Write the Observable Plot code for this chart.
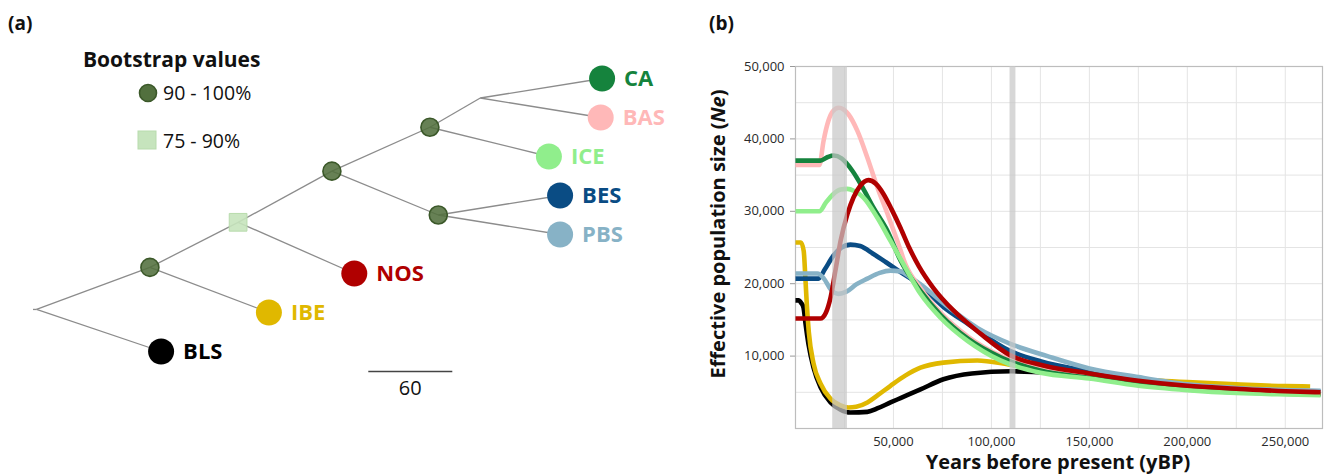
<!DOCTYPE html>
<html><head><meta charset="utf-8">
<script src="https://cdn.jsdelivr.net/npm/d3@7"></script>
<script src="https://cdn.jsdelivr.net/npm/@observablehq/plot@0.6"></script>
<style>
body{margin:0;background:#fff;font-family:"Open Sans",Lato,sans-serif;color:#111;}
#wrap{position:relative;width:1327px;height:475px;overflow:hidden;}
.abs{position:absolute;line-height:1;white-space:nowrap;}
.abs svg{display:block;}
#pa{position:absolute;left:0;top:0;}
#pb{position:absolute;left:690px;top:0;}
</style></head><body><div id="wrap"><div id="pa"></div><div id="pb"></div></div>
<script>
// ---------- Panel (a): tree ----------
const taxa = ["CA","BAS","ICE","BES","PBS","NOS","IBE","BLS"];
const taxonColors = ["#15833d","#ffb8b8","#90ee8c","#0a4c84","#87b2c6","#b00000","#e0b800","#000000"];
const taxonDepth = [404,403,366,374,374,227,166,89];
const innerNodes = ["root","A","B","C","D","E","F"];
const innerDepth = [0,81,144,211,281,287,317];
const innerSupport = [null,"90-100","75-90","90-100","90-100","90-100",null];
const edgeParent = ["root","root","A","A","B","B","C","C","D","D","F","F","E","E"];
const edgeChild  = ["A","BLS","B","IBE","C","NOS","D","E","F","ICE","CA","BAS","BES","PBS"];
const scaleBarLength = 60;
const scaleBarStart = 237;

// ---------- Panel (b): Ne through time ----------
const seriesNames = ["BLS","IBE","BES","PBS","BAS","CA","ICE","NOS"];
const seriesColors = ["#000000","#e0b800","#0a4c84","#87b2c6","#ffb8b8","#15833d","#90ee8c","#b00000"];
const BLS = [[0,17700],[1500,17700],[3000,17300],[4100,16700],[5100,14500],[6600,11700],[9200,8400],[12800,5700],[17900,3600],[23000,2600],[28000,2200],[36700,2300],[42000,2800],[48500,3600],[53600,4200],[63800,5400],[75500,6800],[90000,7600],[110000,7900],[130000,7700],[150000,7000],[175000,6200],[200000,5500],[225000,5100],[250000,4900],[268000,4800]];
const IBE = [[0,25700],[2800,25700],[4200,24500],[5000,21000],[5800,17000],[6800,13300],[9200,9000],[12800,6200],[17900,4100],[23000,3200],[27000,2900],[31000,3000],[36700,3600],[42000,4600],[48500,5900],[56000,7300],[63800,8400],[75500,9100],[92800,9400],[109700,8800],[125000,8200],[150000,7400],[175000,6800],[200000,6400],[225000,6100],[250000,5850],[262700,5800]];
const BES = [[0,20700],[11700,20700],[15000,22000],[19400,23900],[23500,25000],[28000,25400],[33000,25200],[39800,24100],[46000,23000],[53600,21600],[63800,19800],[75500,16800],[87800,14500],[109700,10700],[125000,9300],[150000,7900],[175000,6800],[200000,6000],[225000,5500],[250000,5200],[268000,5100]];
const PBS = [[0,21400],[11200,21400],[14500,20700],[18000,19200],[22000,18600],[26000,18900],[31000,19900],[36700,20700],[43000,21500],[48500,21800],[53600,21700],[58000,21000],[63800,19900],[75500,17300],[92800,13900],[109700,11700],[128600,10000],[150000,8300],[175000,7100],[200000,6100],[225000,5600],[250000,5300],[268000,5200]];
const BAS = [[0,36400],[12200,36400],[14300,39700],[16800,42500],[19000,43800],[22100,44300],[27000,43400],[31600,41100],[36700,37400],[41800,33300],[46900,29700],[52000,25900],[56100,22700],[64000,19300],[74000,16000],[88000,12700],[105000,10000],[125000,8200],[150000,7200],[175000,6300],[200000,5600],[225000,5100],[250000,4900],[268000,4800]];
const CA = [[0,37000],[12700,37000],[16500,37500],[19500,37700],[23500,37300],[29000,35600],[34200,33300],[39800,30500],[46900,27300],[53600,23200],[63800,19000],[74000,15700],[88000,12400],[105000,9800],[125000,8000],[150000,7000],[175000,6100],[200000,5400],[225000,5000],[250000,4800],[268000,4700]];
const ICE = [[0,30000],[12200,30000],[15500,31200],[19400,32400],[23000,33000],[26500,33100],[30000,32800],[34700,31900],[41800,29100],[48500,25900],[55100,22700],[63800,18600],[74000,15300],[87800,12100],[104600,9400],[125000,7700],[150000,6900],[175000,5900],[200000,5300],[225000,4900],[250000,4700],[268000,4600]];
const NOS = [[0,15200],[12700,15200],[15500,16000],[17900,18100],[20500,22000],[23000,25900],[26500,29600],[29600,31900],[33000,33500],[37200,34300],[41000,33800],[44900,32400],[49000,30300],[53600,27700],[58000,25000],[63000,22400],[70400,19400],[80600,16300],[94400,13100],[109700,10100],[126500,8700],[150000,7600],[175000,6600],[200000,5900],[225000,5500],[250000,5150],[268000,5000]];
const seriesData = [BLS,IBE,BES,PBS,BAS,CA,ICE,NOS];
const glacialStart = [19000, 109500];
const glacialEnd = [26500, 112500];
const xTicks = [50000,100000,150000,200000,250000];
const yTicks = [10000,20000,30000,40000,50000];
const xGrid = [25000,50000,75000,100000,125000,150000,175000,200000,225000,250000];
const yGrid = [5000,10000,15000,20000,25000,30000,35000,40000,45000,50000];

// ---- build tree layout from topology ----
const depth = new Map(), ypos = new Map();
taxa.forEach((t,i)=>{depth.set(t,taxonDepth[i]); ypos.set(t,i);});
innerNodes.forEach((n,i)=>depth.set(n,innerDepth[i]));
function yOf(n){
  if (ypos.has(n)) return ypos.get(n);
  const kids = edgeChild.filter((c,i)=>edgeParent[i]===n);
  const v = d3.mean(kids, yOf); ypos.set(n,v); return v;
}
innerNodes.forEach(yOf);
const edges = edgeChild.map((c,i)=>({x1:depth.get(edgeParent[i]), y1:ypos.get(edgeParent[i]), x2:depth.get(c), y2:ypos.get(c)}));
const leaves = taxa.map((t,i)=>({name:t, color:taxonColors[i], x:depth.get(t), y:ypos.get(t)}));
const inner = innerNodes.map((n,i)=>({name:n, support:innerSupport[i], x:depth.get(n), y:ypos.get(n)}));
const rootNode = inner[0];
const scaleY = d3.max(leaves, d=>d.y) + 0.51;

const pxPerUnit = 1.4, rowPx = 39, rootPx = 36, topRowPx = 78;
const WA = 690, H = 475;
const FONT = "'Open Sans', Lato, sans-serif";
const plotA = Plot.plot({
  width: WA, height: H, margin: 0,
  x: {domain: [-rootPx/pxPerUnit, (WA-rootPx)/pxPerUnit], axis: null},
  y: {domain: [-topRowPx/rowPx, (H-topRowPx)/rowPx], reverse: true, axis: null},
  color: {type: "identity"},
  style: {fontFamily: FONT, background: "transparent"},
  marks: [
    Plot.link(edges, {x1:"x1", y1:"y1", x2:"x2", y2:"y2", stroke:"#8c8c8c", strokeWidth:1.3}),
    Plot.link([rootNode], {x1: d=>d.x-2.5, x2:"x", y1:"y", y2:"y", stroke:"#8c8c8c", strokeWidth:1.3}),
    Plot.dot(inner.filter(d=>d.support==="90-100"), {x:"x", y:"y", r:9, fill:"#52703e", fillOpacity:0.88, stroke:"#3b5829", strokeWidth:1.6}),
    Plot.dot(inner.filter(d=>d.support==="75-90"), {x:"x", y:"y", r:10, symbol:"square", fill:"#c6e4bd", fillOpacity:0.9, stroke:"#b8dbad", strokeWidth:1}),
    Plot.dot(leaves, {x:"x", y:"y", r:13, fill:"color"}),
    Plot.text(leaves, {x:"x", y:"y", text:"name", fill:"color", dx:22, textAnchor:"start", fontWeight:"bold", fontSize:22}),
    Plot.link([{x1:scaleBarStart, x2:scaleBarStart+scaleBarLength, y:scaleY}], {x1:"x1", x2:"x2", y1:"y", y2:"y", stroke:"#444", strokeWidth:1.5}),
    Plot.text([{x:scaleBarStart+scaleBarLength/2, y:scaleY, t:String(scaleBarLength)}], {x:"x", y:"y", text:"t", dy:17, fontSize:20, fill:"#111"})
  ]
});
document.getElementById("pa").appendChild(plotA);

// ---- panel b ----
const lineData = seriesData.flatMap((arr,k)=>arr.map(([yr,ne])=>({series:seriesNames[k], year:yr, ne})));
const bands = glacialStart.map((s,i)=>({x1:s, x2:glacialEnd[i]}));
const WB = 637;
const plotB = Plot.plot({
  width: WB, height: H,
  marginLeft: 105, marginRight: 5, marginTop: 66, marginBottom: 47,
  x: {domain: [0, 269000], axis: null},
  y: {domain: [0, 50000], axis: null},
  style: {fontFamily: FONT, fontSize: "13px", color: "#2a2a2a", background: "transparent"},
  marks: [
    Plot.ruleX(xGrid, {stroke:"#e4e4e4", strokeWidth:1}),
    Plot.ruleY(yGrid, {stroke:"#e4e4e4", strokeWidth:1}),
    Plot.frame({stroke:"#bdbdbd", strokeWidth:1.2}),
    ...seriesNames.map((s,k)=>Plot.line(lineData.filter(d=>d.series===s), {x:"year", y:"ne", stroke:seriesColors[k], strokeWidth:4.6, curve:"monotone-x", strokeLinejoin:"round", strokeLinecap:"butt"})),
    Plot.rect(bands, {x1:"x1", x2:"x2", y1:()=>0, y2:()=>50000, fill:"#c8c8c8", fillOpacity:0.72}),
    Plot.axisY(yTicks, {tickFormat: d3.format(","), tickSize:5, tickPadding:6, stroke:"#999", label:null, fontSize:13}),
    Plot.axisX(xTicks, {tickFormat: d3.format(","), tickSize:0, tickPadding:8, label:null, fontSize:13})
  ]
});
document.getElementById("pb").appendChild(plotB);

// ---- titles, legend, axis labels ----
const wrap = document.getElementById("wrap");
function addText(html, style){ const d=document.createElement("div"); d.className="abs"; d.innerHTML=html; Object.assign(d.style, style); wrap.appendChild(d); return d; }
addText("(a)", {left:"8px", top:"14px", fontWeight:"bold", fontSize:"19px"});
addText("(b)", {left:"709px", top:"14px", fontWeight:"bold", fontSize:"19px"});
addText("Bootstrap values", {left:"83px", top:"49px", fontWeight:"bold", fontSize:"21px"});
addText('<svg width="20" height="20"><circle cx="10" cy="10" r="8.5" fill="#52703e" stroke="#3b5829" stroke-width="1.6"/></svg>', {left:"138px", top:"83px"});
addText("90 - 100%", {left:"163px", top:"83px", fontSize:"19.5px"});
addText('<svg width="20" height="20"><rect x="1" y="1" width="18" height="18" fill="#c6e4bd" stroke="#b8dbad"/></svg>', {left:"137px", top:"130px"});
addText("75 - 90%", {left:"163px", top:"131px", fontSize:"19.5px"});
addText("Years before present (yBP)", {left:"1058px", top:"452px", transform:"translateX(-50%)", fontWeight:"bold", fontSize:"20px"});
addText("Effective population size (<i>Ne</i>)", {left:"718px", top:"234px", transform:"translate(-50%,-50%) rotate(-90deg)", fontWeight:"bold", fontSize:"20px"});
</script></body></html>
